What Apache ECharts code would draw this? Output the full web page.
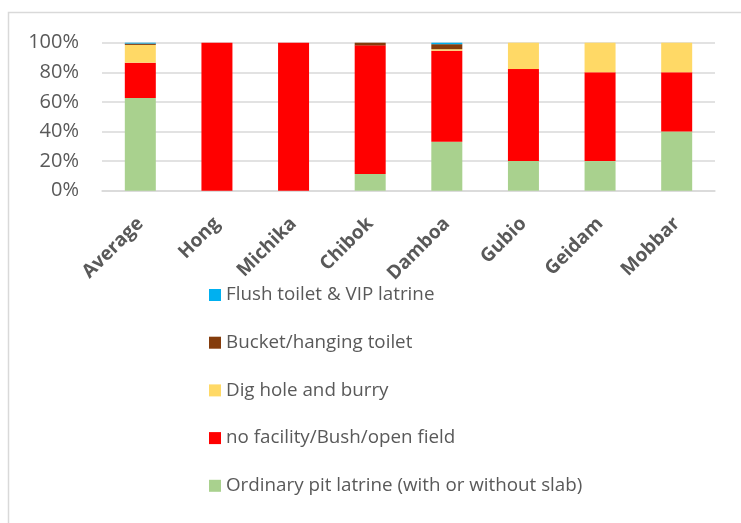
<!DOCTYPE html>
<html>
<head>
<meta charset="utf-8">
<script src="https://cdn.jsdelivr.net/npm/echarts@6/dist/echarts.min.js"></script>
<style>
  html, body { margin: 0; padding: 0; background: #fff; }
  #chart { width: 741px; height: 523px; }
</style>
</head>
<body>
<div id="chart"></div>
<script>
const categories = ['Average', 'Hong', 'Michika', 'Chibok', 'Damboa', 'Gubio', 'Geidam', 'Mobbar'];

// percentages per category, stacked bottom to top
const ordinaryPit = [62.7, 0, 0, 11.3, 33.1, 20.1, 20, 40];
const noFacility  = [23.8, 100, 100, 86.9, 61.5, 62.1, 60, 40];
const digHole     = [12.0, 0, 0, 0, 1.0, 17.8, 20, 20];
const bucket      = [0.9, 0, 0, 1.8, 3.4, 0, 0, 0];
const flushVip    = [0.6, 0, 0, 0, 1.0, 0, 0, 0];

const yTicks = [0, 20, 40, 60, 80, 100];

const chart = echarts.init(document.getElementById('chart'));
const fontName = 'Open Sans';

const mkSerie = (name, data, color) => ({
  name: name,
  type: 'bar',
  stack: 'total',
  data: data,
  barWidth: 31,
  itemStyle: { color: color },
  emphasis: { disabled: true }
});

const series = [
  mkSerie('Ordinary pit latrine (with or without slab)', ordinaryPit, '#a9d18e'),
  mkSerie('no facility/Bush/open field', noFacility, '#ff0000'),
  mkSerie('Dig hole and burry', digHole, '#ffd966'),
  mkSerie('Bucket/hanging toilet', bucket, '#843c0c'),
  mkSerie('Flush toilet & VIP latrine', flushVip, '#00b0f0')
];

const option = {
  animation: false,
  textStyle: { fontFamily: fontName },
  graphic: [{
    type: 'rect',
    shape: { x: 8.5, y: 12.5, width: 800, height: 600 },
    style: { fill: 'none', stroke: '#d9d9d9', lineWidth: 1.5 },
    z: -1
  }],
  grid: {
    left: 102,
    right: 26,
    top: 42.7,
    bottom: 332.3,
    containLabel: false
  },
  legend: {
    orient: 'vertical',
    left: 209,
    top: 285,
    padding: 0,
    icon: 'rect',
    itemWidth: 12,
    itemHeight: 12,
    itemGap: 27.7,
    data: series.map(s => s.name).reverse(),
    textStyle: { color: '#595959', fontSize: 18.8, lineHeight: 20 }
  },
  xAxis: {
    type: 'category',
    data: categories,
    axisTick: { show: false },
    axisLine: { show: true, lineStyle: { color: '#d9d9d9', width: 1.5 } },
    axisLabel: {
      rotate: 45,
      margin: 30,
      interval: 0,
      color: '#595959',
      fontSize: 19,
      fontWeight: 'bold'
    }
  },
  yAxis: {
    type: 'value',
    min: yTicks[0],
    max: yTicks[yTicks.length - 1],
    interval: 20,
    axisLine: { show: false },
    axisTick: { show: false },
    axisLabel: {
      margin: 23,
      color: '#595959',
      fontSize: 20,
      formatter: '{value}%'
    },
    splitLine: { lineStyle: { color: '#d9d9d9', width: 1.5 } }
  },
  series: series
};

chart.setOption(option);
</script>
</body>
</html>
